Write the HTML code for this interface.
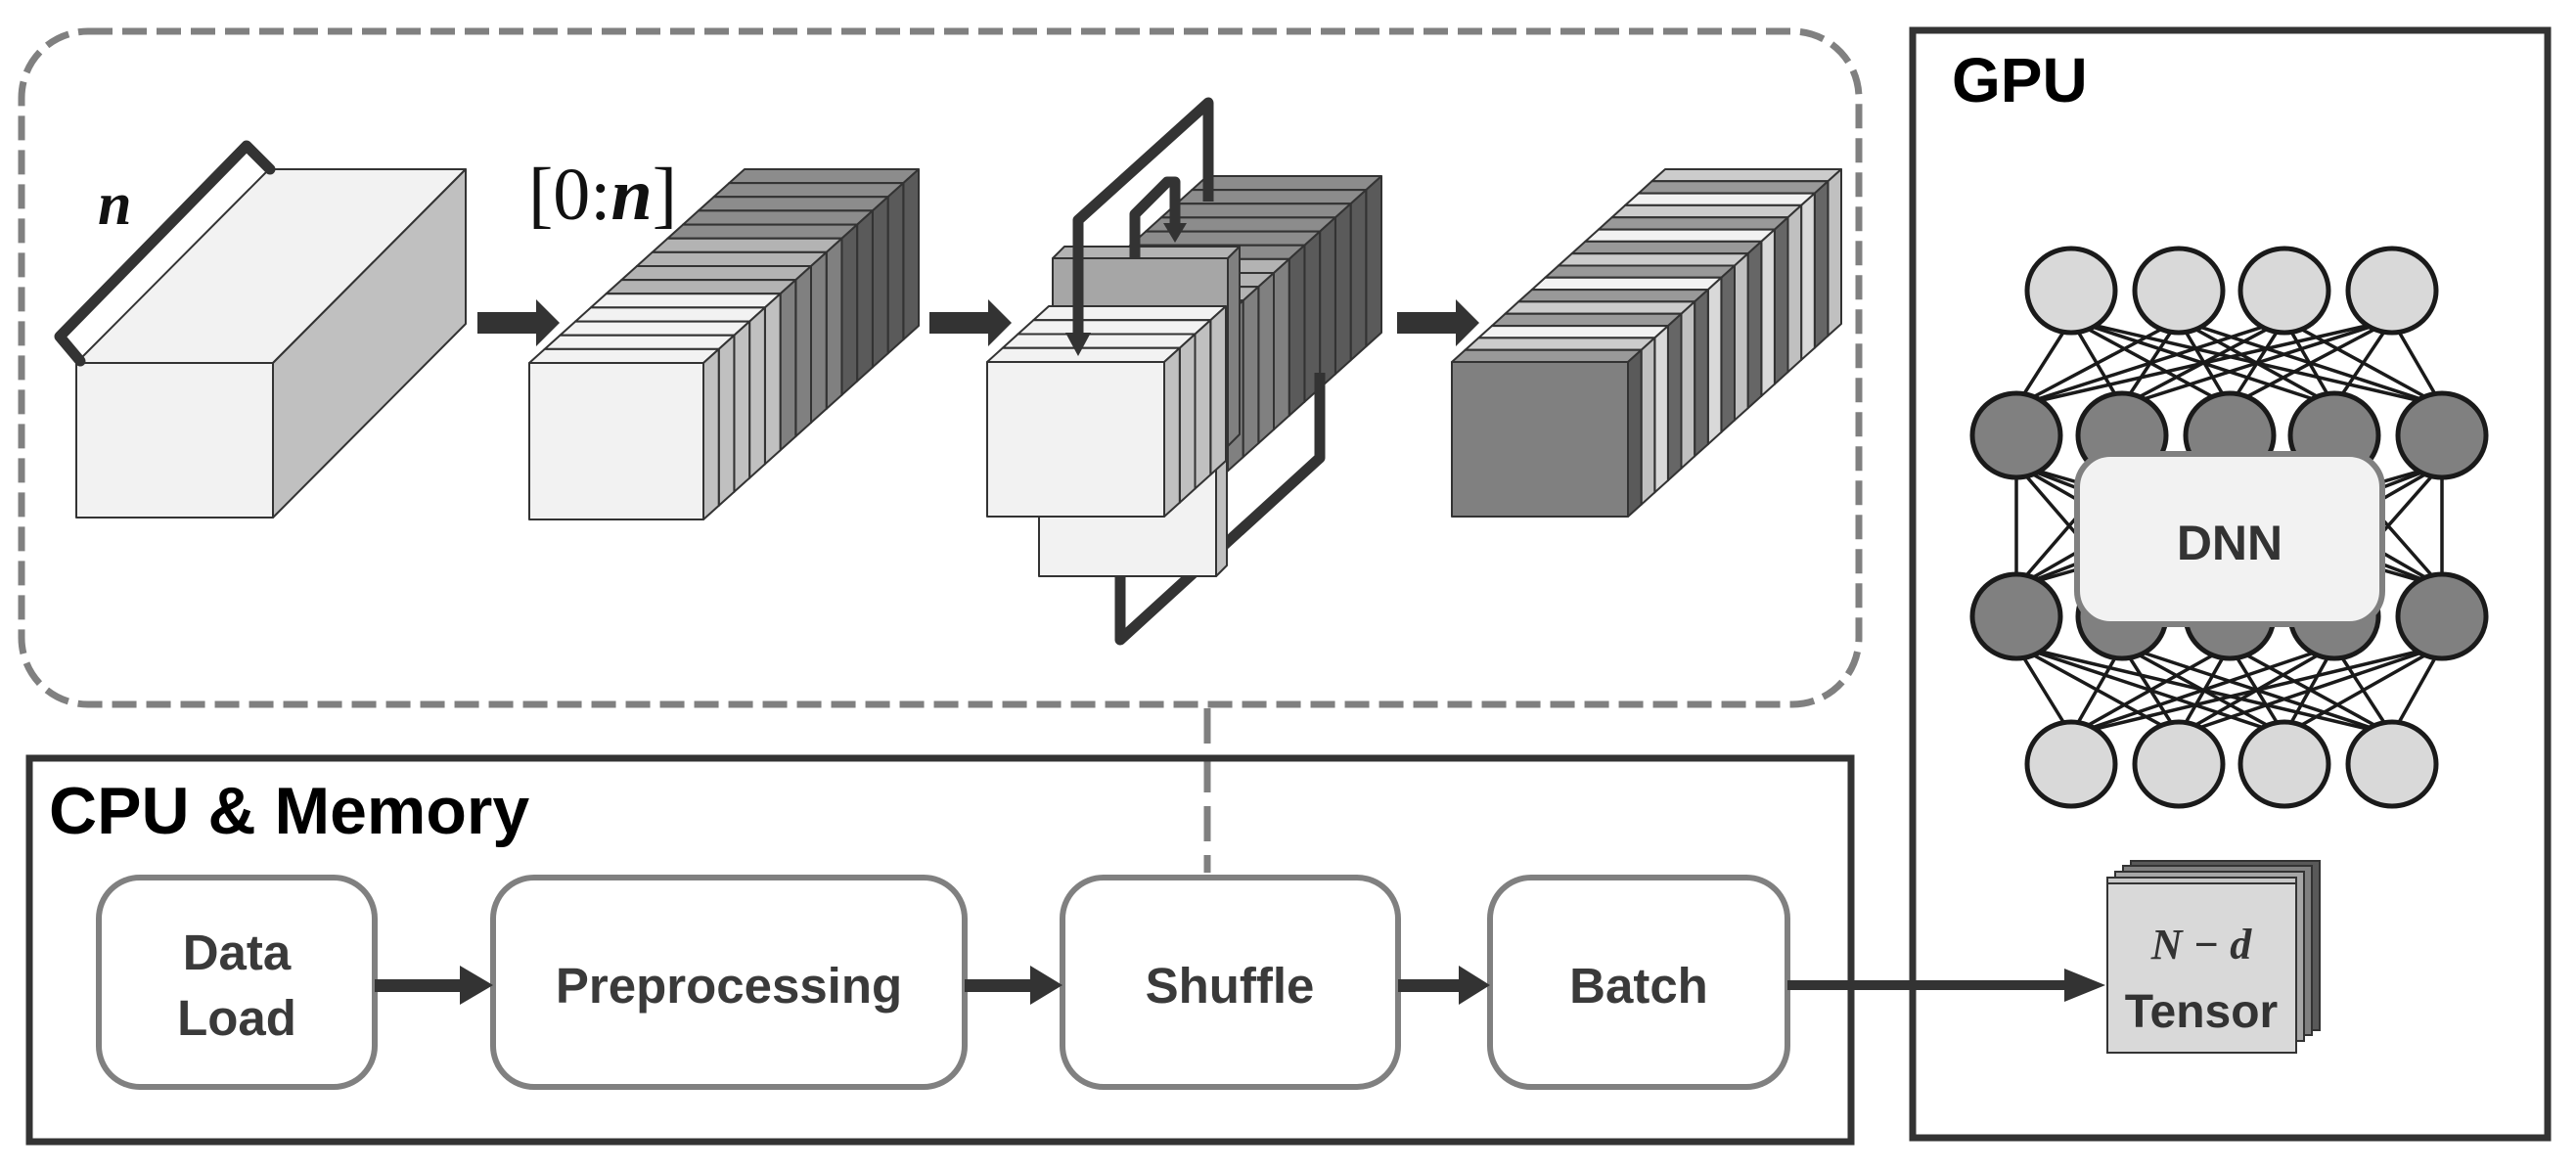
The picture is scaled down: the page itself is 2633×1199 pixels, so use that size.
<!DOCTYPE html>
<html><head><meta charset="utf-8"><style>
html,body{margin:0;padding:0;background:#fff;}
svg{display:block;}
.bx{font-family:"Liberation Sans",sans-serif;font-weight:bold;fill:#3a3a3a;font-size:51px;}
</style></head><body>
<svg id="s" width="2633" height="1199" viewBox="0 0 2633 1199" xmlns="http://www.w3.org/2000/svg">
<rect width="2633" height="1199" fill="#fff"/>
<rect x="22" y="32" width="1878" height="688" rx="68" fill="none" stroke="#808080" stroke-width="7" stroke-dasharray="25 10"/>
<line x1="1234" y1="724" x2="1234" y2="892" stroke="#808080" stroke-width="7" stroke-dasharray="36 14"/>
<rect x="30" y="775" width="1862" height="392" fill="none" stroke="#333" stroke-width="7"/>
<text x="50" y="852" font-family="Liberation Sans,sans-serif" font-weight="bold" font-size="68" fill="#000">CPU &amp; Memory</text>
<rect x="1955" y="31" width="649" height="1132" fill="none" stroke="#333" stroke-width="7"/>
<text x="1995" y="104" font-family="Liberation Sans,sans-serif" font-weight="bold" font-size="64" fill="#000">GPU</text>
<g id="tg"></g>
<g id="nn"></g>
<rect x="2123" y="464" width="312" height="174" rx="34" fill="#f2f2f2" stroke="#808080" stroke-width="6"/>
<text x="2279" y="572" text-anchor="middle" font-family="Liberation Sans,sans-serif" font-weight="bold" font-size="50" fill="#333">DNN</text>
<g fill="#fff" stroke="#808080" stroke-width="6">
<rect x="101" y="897" width="282" height="214" rx="42"/>
<rect x="504" y="897" width="482" height="214" rx="42"/>
<rect x="1086" y="897" width="343" height="214" rx="42"/>
<rect x="1523" y="897" width="304" height="214" rx="42"/>
</g>
<text class="bx" x="242" y="991" text-anchor="middle">Data</text>
<text class="bx" x="242" y="1058" text-anchor="middle">Load</text>
<text class="bx" x="745" y="1025" text-anchor="middle">Preprocessing</text>
<text class="bx" x="1257" y="1025" text-anchor="middle">Shuffle</text>
<text class="bx" x="1675" y="1025" text-anchor="middle">Batch</text>
<g fill="#333">
<rect x="383" y="1001" width="90" height="13"/><polygon points="470,987 504,1007 470,1027"/>
<rect x="986" y="1001" width="70" height="13"/><polygon points="1053,987 1086,1007 1053,1027"/>
<rect x="1429" y="1001" width="65" height="13"/><polygon points="1491,987 1523,1007 1491,1027"/>
<rect x="1827" y="1002" width="290" height="10"/><polygon points="2110,990 2152,1007 2110,1024"/>
</g>
<g stroke="#333" stroke-width="2">
<polygon points="2178,880 2371,880 2371,1053 2178,1053" fill="#595959"/>
<polygon points="2170,885 2363,885 2363,1058 2170,1058" fill="#808080"/>
<polygon points="2162,891 2355,891 2355,1064 2162,1064" fill="#a6a6a6"/>
<polygon points="2154,897 2347,897 2347,1070 2154,1070" fill="#c8c8c8"/>
<rect x="2154" y="903" width="193" height="173" fill="#d9d9d9"/>
</g>
<text x="2250" y="980" text-anchor="middle" font-family="Liberation Serif,serif" font-weight="bold" font-style="italic" font-size="44" fill="#333">N − d</text>
<text x="2250" y="1050" text-anchor="middle" font-family="Liberation Sans,sans-serif" font-weight="bold" font-size="48" fill="#333">Tensor</text>
</svg>
<script>
(function(){
var NS="http://www.w3.org/2000/svg";
function el(p,t,a){var e=document.createElementNS(NS,t);for(var k in a)e.setAttribute(k,a[k]);p.appendChild(e);return e;}
var tg=document.getElementById("tg");
function poly(pts,fill,sw){return el(tg,"polygon",{points:pts.map(function(p){return p[0].toFixed(1)+","+p[1].toFixed(1)}).join(" "),fill:fill,stroke:"#333","stroke-width":sw||2,"stroke-linejoin":"round"});}
function block(x,y,w,h,dx,dy,n,tops,sides,fronts,from,to){
  var sx=dx/n,sy=dy/n;
  for(var i=(to===undefined?n-1:to);i>=(from||0);i--){
    var ox=x+i*sx,oy=y+i*sy;
    poly([[ox,oy],[ox+w,oy],[ox+w+sx,oy+sy],[ox+sx,oy+sy]],tops[i]);
    poly([[ox+w,oy],[ox+w+sx,oy+sy],[ox+w+sx,oy+h+sy],[ox+w,oy+h]],sides[i]);
    poly([[ox,oy],[ox+w,oy],[ox+w,oy+h],[ox,oy+h]],fronts[i]);
  }
}
poly([[78,371],[279,371],[476,173],[275,173]],"#f2f2f2");
poly([[279,371],[476,173],[476,331],[279,529]],"#c0c0c0");
poly([[78,371],[279,371],[279,529],[78,529]],"#f2f2f2");
el(tg,"path",{d:"M82,369 L61,344 L252,149 L276,173",fill:"none",stroke:"#333","stroke-width":11,"stroke-linejoin":"round","stroke-linecap":"round"});
var t=el(tg,"text",{x:100,y:229,"font-family":"Liberation Serif,serif","font-style":"italic","font-weight":"bold","font-size":"62",fill:"#111"});t.textContent="n";
function arr(x,y){el(tg,"rect",{x:x,y:y-11,width:62,height:22,fill:"#333"});el(tg,"polygon",{points:(x+60)+","+(y-24)+" "+(x+84)+","+y+" "+(x+60)+","+(y+24),fill:"#333"});}
arr(488,330);arr(950,330);arr(1428,330);
var T=[],S=[],F=[];
for(var i=0;i<14;i++){T.push(i<5?"#f2f2f2":i<9?"#b3b3b3":"#8c8c8c");S.push(i<5?"#c0c0c0":i<9?"#808080":"#5a5a5a");F.push(i<5?"#f2f2f2":i<9?"#b3b3b3":"#8c8c8c");}
block(541,371,178,160,220,-198,14,T,S,F);
var t2=el(tg,"text",{x:540,y:224,"font-family":"Liberation Serif,serif","font-size":"76",fill:"#111"});
t2.appendChild(document.createTextNode("[0:"));
var ts=el(t2,"tspan",{"font-style":"italic","font-weight":"bold"});ts.textContent="n";
t2.appendChild(document.createTextNode("]"));
var T3=[],S3=[],F3=[];
for(var i=0;i<14;i++){T3.push(i<8?"#b3b3b3":"#8c8c8c");S3.push(i<8?"#808080":"#5a5a5a");F3.push("#a6a6a6");}
block(1014,378,178,160,220,-198,14,T3,S3,F3,4,13);
poly([[1076,264],[1255,264],[1267,252],[1088,252]],"#b3b3b3");
poly([[1255,264],[1267,252],[1267,444],[1255,456]],"#808080");
poly([[1076,264],[1255,264],[1255,456],[1076,456]],"#a6a6a6");
el(tg,"path",{d:"M1160,264 L1160,219 L1193,186 L1201,186 L1201,232",fill:"none",stroke:"#333","stroke-width":11,"stroke-linejoin":"round"});
el(tg,"polygon",{points:"1189,228 1213,228 1201,248",fill:"#333"});
el(tg,"path",{d:"M1145,585 L1145,654 L1349,468 L1349,381",fill:"none",stroke:"#333","stroke-width":11,"stroke-linejoin":"round"});
poly([[1062,422],[1243,422],[1254,411],[1073,411]],"#f2f2f2");
poly([[1243,422],[1254,411],[1254,578],[1243,589]],"#c0c0c0");
poly([[1062,422],[1243,422],[1243,589],[1062,589]],"#f2f2f2");
var T4=[],S4=[],F4=[];for(var i=0;i<4;i++){T4.push("#f2f2f2");S4.push("#c0c0c0");F4.push("#f2f2f2");}
block(1009,370,181,158,63,-57,4,T4,S4,F4);
el(tg,"path",{d:"M1102,350 L1102,225 L1235,105 L1235,206",fill:"none",stroke:"#333","stroke-width":11,"stroke-linejoin":"round"});
el(tg,"polygon",{points:"1089,340 1115,340 1102,364",fill:"#333"});
var pat=["#808080","#cccccc","#f2f2f2","#999999","#cccccc","#999999","#f2f2f2","#999999","#cccccc","#999999","#f2f2f2","#999999","#cccccc","#f2f2f2","#999999","#cccccc"];
var sidemap={"#808080":"#5a5a5a","#cccccc":"#c0c0c0","#f2f2f2":"#d9d9d9","#999999":"#666666"};
var T5=[],S5=[],F5=[];
for(var i=0;i<16;i++){T5.push(i==0?"#999999":pat[i]);S5.push(sidemap[pat[i]]);F5.push(pat[i]);}
block(1484,370,180,158,218,-197,16,T5,S5,F5);
var nn=document.getElementById("nn");
var L1=[2117,2227,2335,2445].map(function(x){return [x,297]});
var D1=[2061,2169,2279,2386,2496].map(function(x){return [x,445]});
var D2=[2061,2169,2279,2386,2496].map(function(x){return [x,630]});
var L2=[2117,2227,2335,2445].map(function(x){return [x,781]});
function conn(A,B){A.forEach(function(a){B.forEach(function(b){el(nn,"line",{x1:a[0],y1:a[1]+30,x2:b[0],y2:b[1]-30,stroke:"#1a1a1a","stroke-width":3.5});});});}
conn(L1,D1);conn(D1,D2);conn(D2,L2);
function circ(P,f){P.forEach(function(p){el(nn,"ellipse",{cx:p[0],cy:p[1],rx:45,ry:43,fill:f,stroke:"#1a1a1a","stroke-width":5});});}
circ(L1,"#d9d9d9");circ(D1,"#808080");circ(D2,"#808080");circ(L2,"#d9d9d9");
})();
</script>
</body></html>
